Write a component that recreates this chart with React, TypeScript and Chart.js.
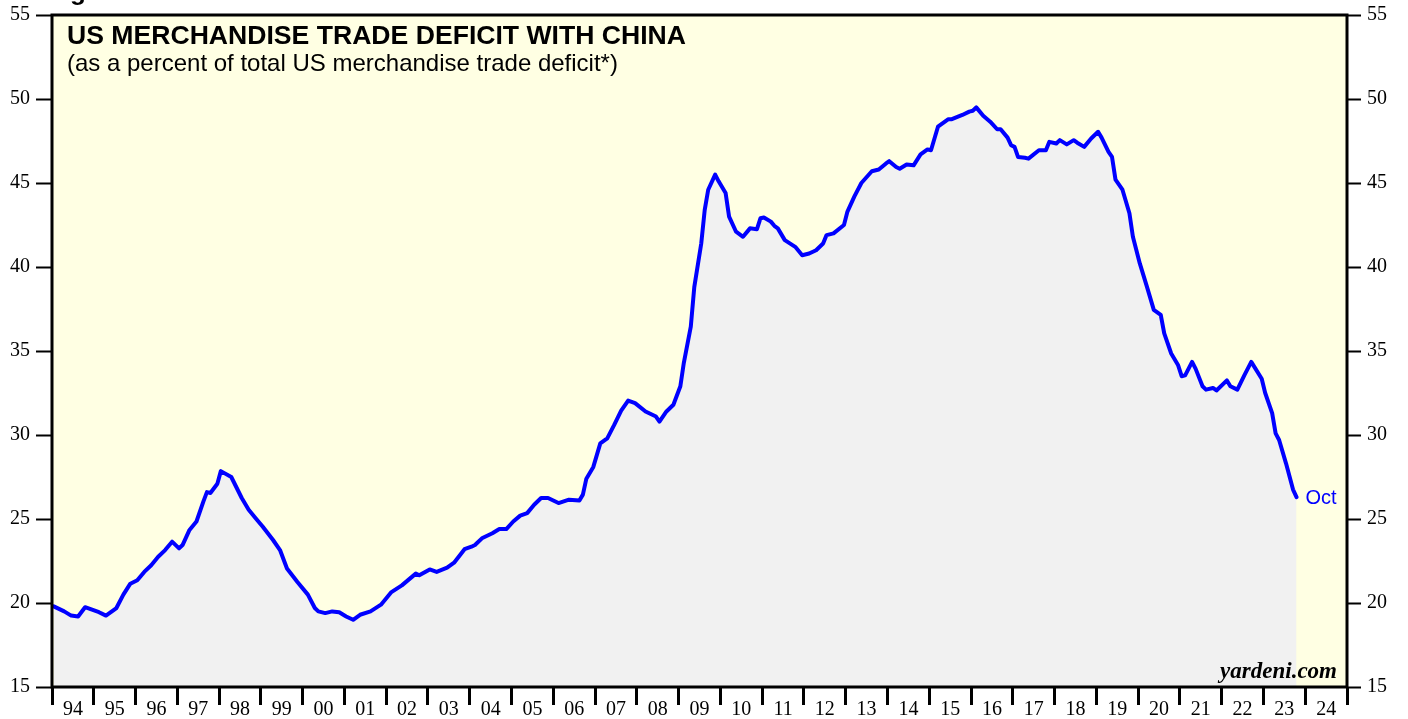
import React, { useEffect, useRef } from 'react';
import { Chart, registerables } from 'chart.js';

Chart.register(...registerables);

// Month of each reading (YYYY-MM) and the share (%)
const months: string[] = [
  '1994-01', '1994-04', '1994-06', '1994-08', '1994-10', '1995-02', '1995-04', '1995-07', '1995-09', '1995-11',
  '1996-01', '1996-03', '1996-05', '1996-07', '1996-09', '1996-11', '1997-01', '1997-02', '1997-04', '1997-06',
  '1997-08', '1997-09', '1997-10', '1997-12', '1998-01', '1998-04', '1998-07', '1998-09', '1998-11', '1999-01',
  '1999-04', '1999-06', '1999-08', '1999-11', '2000-02', '2000-04', '2000-05', '2000-07', '2000-09', '2000-11',
  '2001-01', '2001-03', '2001-05', '2001-08', '2001-11', '2002-02', '2002-05', '2002-09', '2002-10', '2003-01',
  '2003-03', '2003-06', '2003-08', '2003-11', '2004-01', '2004-02', '2004-04', '2004-07', '2004-09', '2004-11',
  '2005-01', '2005-03', '2005-05', '2005-07', '2005-09', '2005-11', '2006-02', '2006-05', '2006-08', '2006-09',
  '2006-10', '2006-12', '2007-02', '2007-04', '2007-06', '2007-08', '2007-10', '2007-12', '2008-03', '2008-06',
  '2008-07', '2008-09', '2008-11', '2009-01', '2009-02', '2009-04', '2009-05', '2009-07', '2009-08', '2009-09',
  '2009-11', '2009-12', '2010-02', '2010-03', '2010-05', '2010-07', '2010-09', '2010-11', '2010-12', '2011-01',
  '2011-03', '2011-04', '2011-05', '2011-07', '2011-10', '2011-12', '2012-02', '2012-04', '2012-06', '2012-07',
  '2012-09', '2012-12', '2013-01', '2013-03', '2013-05', '2013-08', '2013-10', '2013-12', '2014-01', '2014-03',
  '2014-04', '2014-06', '2014-08', '2014-10', '2014-12', '2015-01', '2015-03', '2015-06', '2015-07', '2015-10',
  '2015-12', '2016-01', '2016-02', '2016-04', '2016-06', '2016-08', '2016-09', '2016-11', '2016-12', '2017-01',
  '2017-02', '2017-04', '2017-05', '2017-08', '2017-10', '2017-11', '2018-01', '2018-02', '2018-04', '2018-06',
  '2018-07', '2018-09', '2018-11', '2019-01', '2019-02', '2019-04', '2019-05', '2019-06', '2019-08', '2019-10',
  '2019-11', '2020-01', '2020-03', '2020-05', '2020-07', '2020-08', '2020-10', '2020-12', '2021-01', '2021-02',
  '2021-04', '2021-05', '2021-07', '2021-08', '2021-10', '2021-11', '2022-02', '2022-03', '2022-05', '2022-07',
  '2022-09', '2022-12', '2023-01', '2023-03', '2023-04', '2023-05', '2023-07', '2023-09', '2023-10',
];

const values: number[] = [
  19.8, 19.5, 19.25, 19.2, 19.75, 19.45, 19.25, 19.7, 20.5, 21.15,
  21.35, 21.85, 22.25, 22.75, 23.15, 23.65, 23.25, 23.45, 24.35, 24.85,
  26.05, 26.6, 26.55, 27.1, 27.85, 27.5, 26.25, 25.55, 25.05, 24.55,
  23.75, 23.15, 22.05, 21.25, 20.5, 19.7, 19.5, 19.4, 19.5, 19.45,
  19.2, 19.0, 19.3, 19.5, 19.9, 20.65, 21.05, 21.75, 21.65, 22.0,
  21.85, 22.1, 22.4, 23.2, 23.35, 23.45, 23.85, 24.15, 24.4, 24.4,
  24.85, 25.2, 25.35, 25.85, 26.25, 26.25, 25.95, 26.15, 26.1, 26.45,
  27.4, 28.1, 29.5, 29.8, 30.6, 31.45, 32.05, 31.9, 31.4, 31.1,
  30.8, 31.4, 31.8, 32.9, 34.3, 36.45, 38.8, 41.4, 43.4, 44.6,
  45.5, 45.1, 44.4, 43.0, 42.1, 41.8, 42.3, 42.25, 42.9, 42.95,
  42.7, 42.45, 42.3, 41.6, 41.2, 40.7, 40.8, 41.0, 41.4, 41.9,
  42.0, 42.5, 43.3, 44.2, 45.0, 45.7, 45.8, 46.15, 46.3, 45.95,
  45.85, 46.1, 46.05, 46.7, 47.0, 46.95, 48.35, 48.8, 48.8, 49.05,
  49.25, 49.3, 49.5, 49.0, 48.65, 48.2, 48.2, 47.7, 47.25, 47.15,
  46.55, 46.5, 46.45, 46.95, 46.95, 47.45, 47.35, 47.55, 47.3, 47.55,
  47.4, 47.15, 47.65, 48.05, 47.7, 46.85, 46.55, 45.2, 44.6, 43.2,
  41.8, 40.2, 38.85, 37.45, 37.15, 36.05, 34.85, 34.15, 33.5, 33.55,
  34.35, 33.95, 32.9, 32.7, 32.8, 32.65, 33.25, 32.9, 32.7, 33.55,
  34.35, 33.35, 32.5, 31.3, 30.1, 29.7, 28.3, 26.75, 26.3,
];

const yearLabels: string[] = [
  '94', '95', '96', '97', '98', '99', '00', '01', '02', '03', '04', '05', '06', '07', '08', '09',
  '10', '11', '12', '13', '14', '15', '16', '17', '18', '19', '20', '21', '22', '23', '24',
];
const firstYear = 1994;
const yTicks: number[] = [15, 20, 25, 30, 35, 40, 45, 50, 55];
const lastLabel = 'Oct';
const titleText = 'US MERCHANDISE TRADE DEFICIT WITH CHINA';
const subtitleText = '(as a percent of total US merchandise trade deficit*)';
const figureText = 'Figure 1.';
const sourceText = 'yardeni.com';

const toYear = (m: string) => {
  const [y, mo] = m.split('-').map(Number);
  return y + (mo - 0.5) / 12;
};

const SERIF = '"Liberation Serif", "Times New Roman", serif';
const SANS = '"Liberation Sans", Arial, sans-serif';

export default function App() {
  const ref = useRef<HTMLCanvasElement>(null);

  useEffect(() => {
    const canvas = ref.current;
    if (!canvas) return;
    const points = months.map((m, i) => ({ x: toYear(m), y: values[i] }));
    const yearTicks = Array.from({ length: yearLabels.length + 1 }, (_, i) => ({ value: firstYear + i }));

    const decor = {
      id: 'decor',
      beforeDraw(chart: any) {
        const { ctx, chartArea: a } = chart;
        ctx.save();
        ctx.fillStyle = '#ffffe3';
        ctx.fillRect(a.left, a.top, a.right - a.left, a.bottom - a.top);
        ctx.restore();
      },
      afterDatasetsDraw(chart: any) {
        const { ctx, chartArea: a } = chart;
        const xs = chart.scales.x;
        const ys = chart.scales.y;
        ctx.save();
        // frame
        ctx.strokeStyle = '#000';
        ctx.lineWidth = 3;
        ctx.strokeRect(a.left, a.top, a.right - a.left, a.bottom - a.top);
        // titles
        ctx.fillStyle = '#000';
        ctx.textAlign = 'left';
        ctx.textBaseline = 'alphabetic';
        ctx.font = `bold 26.6px ${SANS}`;
        ctx.fillText(titleText, 67, 44);
        ctx.font = `24px ${SANS}`;
        ctx.fillText(subtitleText, 67, 71);
        ctx.font = `bold 26px ${SANS}`;
        ctx.fillText(figureText, 47, 0);
        // source
        ctx.font = `italic bold 23px ${SERIF}`;
        ctx.textAlign = 'right';
        ctx.fillText(sourceText, 1337, 678);
        // last label
        const lx = xs.getPixelForValue(points[points.length - 1].x);
        const ly = ys.getPixelForValue(points[points.length - 1].y);
        ctx.font = `20px ${SANS}`;
        ctx.fillStyle = '#0000ff';
        ctx.textAlign = 'left';
        ctx.textBaseline = 'middle';
        ctx.fillText(lastLabel, lx + 9, ly + 1);
        ctx.restore();
      },
    };

    const yCommon = (width: number, tickLength: number, position: string) => ({
      type: 'linear' as const,
      position,
      min: 15,
      max: 55,
      afterBuildTicks: (s: any) => {
        s.ticks = yTicks.map((v) => ({ value: v }));
      },
      afterFit: (s: any) => {
        s.width = width;
        s.paddingTop = 0;
        s.paddingBottom = 0;
      },
      ticks: {
        padding: 6,
        color: '#000',
        font: { family: SERIF, size: 20 },
      },
      grid: {
        drawOnChartArea: false,
        drawTicks: true,
        tickLength,
        tickWidth: 2,
        tickColor: '#000',
      },
      border: { display: false },
    });

    const chart = new Chart(canvas, {
      type: 'line',
      data: {
        datasets: [
          {
            data: points,
            borderColor: '#0000ff',
            borderWidth: 4,
            backgroundColor: '#f1f1f1',
            fill: 'start',
            pointRadius: 0,
            tension: 0,
            borderJoinStyle: 'round',
            borderCapStyle: 'round',
            yAxisID: 'y',
          },
        ],
      },
      options: {
        animation: false,
        responsive: false,
        layout: { padding: { top: 15, left: 0, right: 0, bottom: 0 } },
        plugins: { legend: { display: false }, tooltip: { enabled: false }, title: { display: false } },
        scales: {
          x: {
            type: 'linear',
            position: 'bottom',
            min: firstYear,
            max: firstYear + yearLabels.length,
            afterBuildTicks: (s: any) => {
              s.ticks = yearTicks.map((t) => ({ ...t }));
            },
            afterFit: (s: any) => {
              s.height = 32;
              s.paddingLeft = 0;
              s.paddingRight = 0;
            },
            ticks: {
              autoSkip: false,
              maxRotation: 0,
              minRotation: 0,
              labelOffset: 20.9,
              padding: -7,
              color: '#000',
              font: { family: SERIF, size: 20 },
              callback: (v: any) => {
                const i = Math.round(Number(v) - firstYear);
                return i >= 0 && i < yearLabels.length ? yearLabels[i] : '';
              },
            },
            grid: {
              drawOnChartArea: false,
              drawTicks: true,
              tickLength: 18,
              tickWidth: 3,
              tickColor: '#000',
            },
            border: { display: false },
          },
          y: yCommon(52, 16, 'left'),
          y2: yCommon(61, 14, 'right'),
        },
      } as any,
      plugins: [decor],
    });

    return () => chart.destroy();
  }, []);

  return (
    <div style={{ position: 'fixed', left: 0, top: 0, width: 1408, height: 719, background: '#fff' }}>
      <canvas ref={ref} width={1408} height={719} style={{ display: 'block', width: 1408, height: 719 }} />
    </div>
  );
}
